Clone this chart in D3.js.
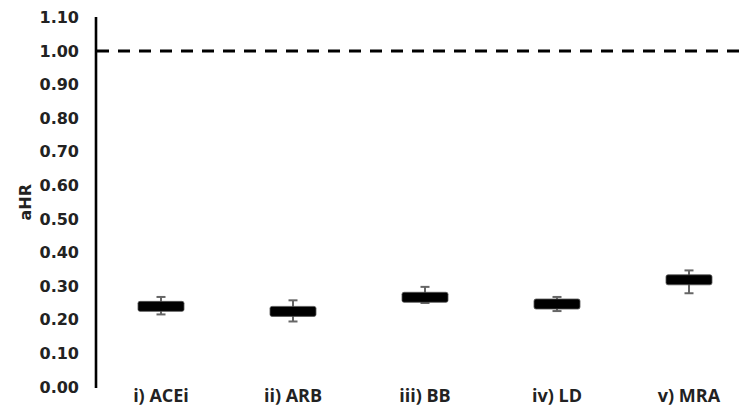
<!DOCTYPE html>
<html lang="en">
  <head>
    <meta charset="UTF-8" />
    <title>aHR</title>
    <script src="https://d3js.org/d3.v7.min.js"></script>
    <style>
      body { margin: 0; background: #fff; }
      .ylab { font-family: "DejaVu Sans", Verdana, sans-serif; font-weight: bold; font-size: 16px; fill: #222; }
      .xlab { font-family: "Liberation Sans Narrow", "Open Sans", sans-serif; font-weight: bold; font-size: 18px; fill: #222; }
    </style>
  </head>
  <body>
    <svg width="740" height="409"></svg>
    <script>
      const categories = ["i) ACEi", "ii) ARB", "iii) BB", "iv) LD", "v) MRA"];
      const estimates = [0.24, 0.225, 0.267, 0.247, 0.319];
      const lower = [0.216, 0.195, 0.25, 0.226, 0.279];
      const upper = [0.268, 0.258, 0.298, 0.268, 0.347];
      const yTicks = [0, 0.1, 0.2, 0.3, 0.4, 0.5, 0.6, 0.7, 0.8, 0.9, 1.0, 1.1];
      const refLine = 1.0;

      const svg = d3.select("svg");

      const x = d3.scaleBand().domain(categories).range([95, 755]);
      const y = d3.scaleLinear().domain([0, 1.1]).range([387, 17.4]);

      const yAxis = svg.append("g")
        .attr("transform", "translate(96,0)")
        .call(d3.axisLeft(y).tickValues(yTicks).tickSize(0).tickPadding(17)
          .tickFormat(d3.format(".2f")));
      yAxis.attr("font-family", null).attr("font-size", null);
      yAxis.select(".domain")
        .attr("stroke", "#000")
        .attr("stroke-width", 2.6)
        .attr("d", "M0," + (y(1.1) - 0.5) + "V" + (y(0) + 1));
      yAxis.selectAll("text").attr("class", "ylab").attr("fill", null);

      svg.append("text")
        .attr("class", "ylab")
        .attr("transform", "translate(31," + y(0.55) + ") rotate(-90)")
        .attr("text-anchor", "middle")
        .text("aHR");

      // reference line
      svg.append("line")
        .attr("x1", 97).attr("x2", 740)
        .attr("y1", y(refLine)).attr("y2", y(refLine))
        .attr("stroke", "#000")
        .attr("stroke-width", 3)
        .attr("stroke-dasharray", "12,9");

      // x labels
      svg.append("g").selectAll("text")
        .data(categories)
        .join("text")
        .attr("class", "xlab")
        .attr("x", (d) => x(d) + x.bandwidth() / 2)
        .attr("y", 402)
        .attr("text-anchor", "middle")
        .text((d) => d);

      const pts = categories.map((c, i) => ({ c, v: estimates[i], lo: lower[i], hi: upper[i] }));

      // error bars
      const eb = svg.append("g").attr("stroke", "#666").attr("stroke-width", 2);
      pts.forEach((p) => {
        const cx = x(p.c) + x.bandwidth() / 2;
        eb.append("line").attr("x1", cx).attr("x2", cx).attr("y1", y(p.hi)).attr("y2", y(p.lo));
        eb.append("line").attr("x1", cx - 4.5).attr("x2", cx + 4.5).attr("y1", y(p.hi)).attr("y2", y(p.hi));
        eb.append("line").attr("x1", cx - 4.5).attr("x2", cx + 4.5).attr("y1", y(p.lo)).attr("y2", y(p.lo));
      });

      // markers
      svg.append("g").selectAll("rect")
        .data(pts)
        .join("rect")
        .attr("x", (d) => x(d.c) + x.bandwidth() / 2 - 23)
        .attr("y", (d) => y(d.v) - 5)
        .attr("width", 46)
        .attr("height", 10)
        .attr("rx", 2)
        .attr("fill", "#000")
        .attr("stroke", "#555")
        .attr("stroke-width", 0.8);
    </script>
  </body>
</html>
